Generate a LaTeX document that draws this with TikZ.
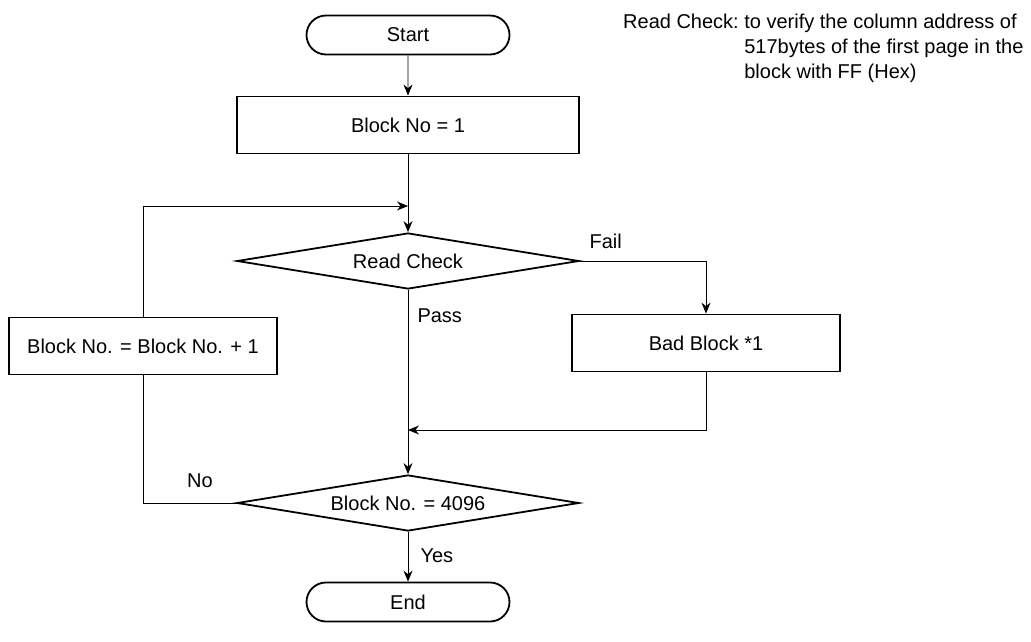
\documentclass[tikz,border=0pt]{standalone}
\usepackage{fontspec}
\setmainfont{Liberation Sans}
\usepackage{tikz}
\usetikzlibrary{arrows.meta, positioning, shapes.geometric, shapes.misc}

\begin{document}
\begin{tikzpicture}[
        x=1pt, y=-1pt,
        font=\fontsize{20}{25}\selectfont,
        term/.style={draw, rounded rectangle, line width=1.8pt,
                     minimum width=203pt, minimum height=39pt, inner sep=0pt},
        box/.style={draw, rectangle, line width=1.8pt,
                    minimum width=#1, minimum height=57pt, inner sep=0pt},
        box/.default=342pt,
        test/.style={draw, diamond, line width=1.8pt, aspect=6,
                     minimum width=342pt, minimum height=56pt, inner sep=0pt},
        flow/.style={line width=0.9pt, -{Stealth[length=11pt, width=9pt]}},
        wire/.style={line width=0.9pt}
      ]
      \useasboundingbox (0,0) rectangle (1031,642);
      \node[term] (start) at (408,35)  {Start};
      \node[box]  (init)  at (408,125) {Block No = 1};
      \node[test] (read)  at (408,261) {Read Check};
      \node[box=268pt] (bad) at (706,343) {Bad Block *1};
      \node[box=268pt] (inc) at (143,346) {Block No. = Block No. + 1};
      \node[test] (last)  at (408,503) {Block No. = 4096};
      \node[term] (stop)  at (408,602) {End};
      \coordinate (loopin) at (408,206);
      \coordinate (badin)  at (408,430);

      % labels
      \node[anchor=west] (fail) at (586,241) {Fail};
      \node[anchor=west] (pass) at (414,316) {Pass};
      \node (no)  at (200,481) {No};
      \node[anchor=west] (yes) at (417,556) {Yes};

      % note
      \node[anchor=north west, inner sep=0pt] (note) at (623,11)
        {\begin{tabular}{@{}l@{\ }l@{}}
          Read Check: & to verify the column address of\\
                      & 517bytes of the first page in the\\
                      & block with FF (Hex)
        \end{tabular}};

      \draw[flow] (start) -- (init);
      \draw[flow] (init) -- (read);
      \draw[flow] (inc) |- (loopin);
      \draw[flow] (read.east) -| (bad);
      \draw[flow] (read) -- (last);
      \draw[flow] (bad) |- (badin);
      \draw[wire] (last.west) -| (inc);
      \draw[flow] (last) -- (stop);
    \end{tikzpicture}
\end{document}
